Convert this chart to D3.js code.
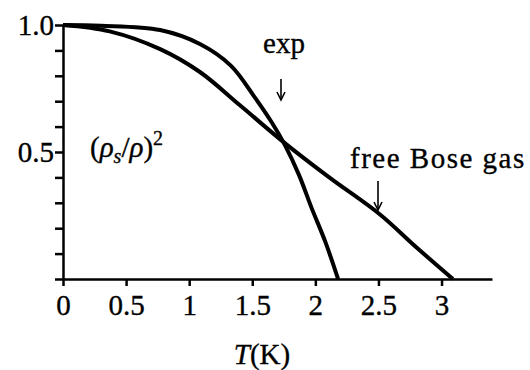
<!DOCTYPE html>
<html>
<head>
<meta charset="utf-8">
<script src="https://cdn.jsdelivr.net/npm/d3@7"></script>
<style>
  html, body { margin: 0; padding: 0; background: #fff; }
  svg { display: block; }
  text { font-family: "Liberation Serif", "Times New Roman", "DejaVu Serif", serif; fill: #000; stroke: #000; stroke-width: 0.35px; }
</style>
</head>
<body>
<svg id="chart" width="530" height="370"></svg>
<script>
// Superfluid fraction squared vs temperature
const expT   = [0, 0.3, 0.77, 1.085, 1.33, 1.52, 1.65, 1.758, 1.87, 1.97, 2.08, 2.18];
const expV   = [1.0, 0.997, 0.98, 0.925, 0.84, 0.715, 0.62, 0.528, 0.41, 0.28, 0.145, 0.0];
const boseT  = [0, 0.37, 0.77, 1.085, 1.40, 1.758, 2.11, 2.51, 2.8, 3.09];
const boseV  = [1.0, 0.975, 0.905, 0.815, 0.685, 0.535, 0.40, 0.255, 0.125, 0.0];
const xTicks = [0, 0.5, 1, 1.5, 2, 2.5, 3];
const xTickLabels = ["0", "0.5", "1", "1.5", "2", "2.5", "3"];
const yTicks = [0, 0.1, 0.2, 0.3, 0.4, 0.5, 0.6, 0.7, 0.8, 0.9, 1.0];
const yLabelled = [0.5, 1.0];
const yTickLabels = ["0.5", "1.0"];

const svg = d3.select("#chart");
const x = d3.scaleLinear().domain([0, 3.4]).range([63, 492]);
const y = d3.scaleLinear().domain([0, 1]).range([279, 25]);

const FS = 29;

// x axis: ticks hang below the line
const xAxis = svg.append("g").attr("transform", `translate(0,${y(0)})`)
  .call(d3.axisBottom(x).tickValues(xTicks).tickSize(7).tickSizeOuter(0)
        .tickFormat((d, i) => xTickLabels[i]));
xAxis.select(".domain").attr("stroke", "#000").attr("stroke-width", 2.5);
xAxis.selectAll(".tick line").attr("stroke", "#000").attr("stroke-width", 2.5);
xAxis.selectAll(".tick text").attr("font-size", FS)
  .attr("dy", null).attr("y", 36);

// y axis: minor ticks every 0.1, labels at 0.5 and 1.0
const yAxis = svg.append("g").attr("transform", `translate(${x(0)},0)`)
  .call(d3.axisLeft(y).tickValues(yTicks).tickSize(8).tickSizeOuter(0)
        .tickFormat(d => { const i = yLabelled.findIndex(v => Math.abs(v - d) < 1e-9); return i >= 0 ? yTickLabels[i] : ""; }));
yAxis.select(".domain").attr("stroke", "#000").attr("stroke-width", 2.5);
yAxis.selectAll(".tick line").attr("stroke", "#000").attr("stroke-width", 2.5);
yAxis.selectAll(".tick text").attr("font-size", FS)
  .attr("x", -9).attr("dy", "0.34em");

// curves
const line = d3.line().x(d => x(d[0])).y(d => y(d[1])).curve(d3.curveCatmullRom.alpha(0.5));
svg.append("path").datum(d3.zip(expT, expV)).attr("d", line)
  .attr("fill", "none").attr("stroke", "#000").attr("stroke-width", 4).attr("stroke-linejoin", "round");
svg.append("path").datum(d3.zip(boseT, boseV)).attr("d", line)
  .attr("fill", "none").attr("stroke", "#000").attr("stroke-width", 4).attr("stroke-linejoin", "round");

// labels with arrows
function arrow(x0, y0, y1) {
  const g = svg.append("g").attr("stroke", "#000").attr("stroke-width", 1.6).attr("fill", "none");
  g.append("line").attr("x1", x0).attr("y1", y0).attr("x2", x0).attr("y2", y1);
  g.append("path").attr("d", `M${x0 - 4},${y1 - 8} L${x0},${y1} L${x0 + 4},${y1 - 8}`);
}
svg.append("text").attr("x", 284).attr("y", 53).attr("text-anchor", "middle")
  .attr("font-size", FS).text("exp");
arrow(281, 79, 100);
svg.append("text").attr("x", 350).attr("y", 168).attr("font-size", FS)
  .attr("letter-spacing", 1.5).text("free Bose gas");
arrow(378, 181, 210);

// y quantity
const q = svg.append("text").attr("x", 90).attr("y", 157).attr("font-size", FS);
q.append("tspan").text("(");
q.append("tspan").attr("font-style", "italic").text("ρ");
q.append("tspan").attr("font-style", "italic").attr("font-size", 20).attr("dy", 6).text("s");
q.append("tspan").attr("dy", -6).text("/");
q.append("tspan").attr("font-style", "italic").text("ρ");
q.append("tspan").text(")");
q.append("tspan").attr("font-size", 20).attr("dy", -12).text("2");

// x quantity
const t = svg.append("text").attr("x", 262).attr("y", 364).attr("text-anchor", "middle").attr("font-size", FS);
t.append("tspan").attr("font-style", "italic").text("T");
t.append("tspan").text("(K)");
</script>
</body>
</html>
